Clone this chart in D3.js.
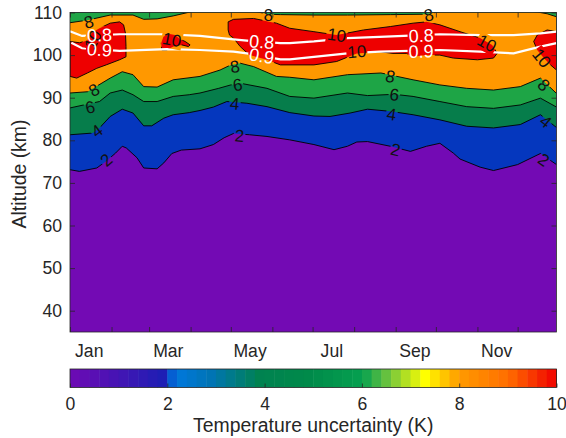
<!DOCTYPE html>
<html>
<head>
<meta charset="utf-8">
<script src="https://cdn.jsdelivr.net/npm/d3@7"></script>
<style>
  body { margin: 0; background: #fff; }
  svg { font-family: "Liberation Sans", Arial, Helvetica, sans-serif; }
</style>
</head>
<body>
<div class="chart"></div>
<script>
/* filled contour levels (K) and the colour of each band */
const levels = [0, 2, 4, 6, 8, 10];
const levelColors = ["#730ab4", "#0537be", "#067d4b", "#1ea546", "#ff9800", "#ee0000"];

/* contour boundaries: [day of year, altitude km] */
const contour2 = [[1,73.1],[8,72.7],[21,73.5],[28,75.1],[35,77.0],[40,78.6],[43,78.2],[51,75.9],[56,73.5],[66,73.3],[71,74.7],[77,76.9],[84,77.7],[98,78.0],[108,79.0],[116,80.6],[123,81.6],[135,81.3],[148,80.9],[165,80.1],[183,79.0],[198,77.8],[208,78.6],[215,79.6],[223,79.7],[240,78.6],[255,77.4],[267,78.6],[277,79.3],[287,77.0],[292,75.6],[307,73.7],[317,72.9],[335,74.3],[352,76.9],[364,74.3]];
const contour4 = [[1,81.3],[18,81.7],[23,82.9],[31,85.6],[40,87.3],[48,86.4],[56,83.4],[62,83.4],[71,85.2],[78,86.0],[90,86.5],[98,87.0],[108,87.8],[118,89.1],[133,88.7],[148,87.9],[165,86.5],[183,85.7],[195,85.6],[210,86.4],[223,87.3],[240,86.8],[257,86.0],[277,84.8],[297,83.3],[317,82.9],[337,83.7],[352,86.0],[364,83.0]];
const contour6 = [[1,87.6],[23,89.1],[31,91.1],[40,91.8],[48,90.7],[56,89.1],[66,89.1],[78,90.3],[90,90.7],[98,91.1],[112,92.2],[121,93.0],[128,93.4],[148,92.2],[165,90.3],[183,89.9],[208,91.1],[223,90.5],[243,90.8],[257,90.3],[277,89.1],[297,87.9],[317,87.5],[337,88.3],[352,89.9],[364,87.8]];
const contour8 = [[1,91.1],[14,91.4],[31,94.6],[40,96.1],[48,95.4],[56,92.6],[66,92.5],[78,94.2],[98,95.0],[113,96.5],[121,97.7],[128,98.1],[138,97.3],[155,95.0],[165,94.8],[183,94.2],[208,95.4],[233,95.8],[257,94.2],[277,93.0],[297,92.2],[317,91.8],[337,92.6],[352,94.6],[364,91.0]];
const contour8top = [[1,107.6],[14,108.2],[31,109.4],[48,109.4],[56,108.4],[66,108.5],[78,109.2],[93,110.3],[105,111],[125,111],[140,110.2],[149,109.6],[158,109.5],[183,109.4],[208,109.4],[240,109.5],[267,109.6],[280,110.4],[300,111],[330,110.8],[350,110.1],[357,109.7],[364,109.0]];

/* closed 10 K regions */
const blob10a = [[1,103.2],[8,102.9],[14,103.4],[17,105.2],[23,106.3],[31,107.5],[38,107.8],[41,107.1],[42.4,105.1],[42.8,102.0],[42.8,99.6],[38,98.9],[28,97.7],[21,96.9],[14,95.8],[6,94.6],[1,95.0]];
const blob10b = [[69,102.8],[70.7,104.3],[74.4,105.0],[79.4,104.7],[83.2,103.7],[86.9,103.2],[90.6,102.4],[89.4,102.0],[84.4,102.4],[78.2,102.0],[73.2,101.2],[69.5,101.2]];
const blob10c = [[119,107.8],[123,108.4],[138,108.6],[155,107.5],[165,106.3],[183,105.5],[200,104.7],[220,105.9],[240,106.7],[257,107.5],[267,107.8],[277,107.1],[292,105.5],[307,104.0],[316,102.4],[319.7,100.4],[317,99.3],[305,98.9],[287,99.3],[277,100.0],[267,100.0],[257,99.6],[252,100.4],[242,100.4],[232,100.8],[215,100.4],[200,98.5],[183,97.7],[158,97.7],[148,98.9],[135,100.0],[128,102.0],[123,104.0],[120,104.7],[119,105.9]];
const blob10d = [[364,105.5],[357,105.9],[349.6,104.7],[347,103.2],[349.6,101.2],[354.5,99.3],[359.5,97.7],[364,96.5]];

/* white contours of the second field */
const line08 = [[1,105.6],[10,104.5],[38,104.9],[73,104.9],[98,104.5],[123,103.7],[133,103.4],[158,102.8],[165,102.8],[183,103.2],[208,104.0],[232,104.3],[250,104.5],[277,104.9],[307,104.7],[332,104.7],[352,105.1],[364,105.5]];
const line09 = [[2,102.9],[10,101.6],[38,101.0],[73,101.4],[98,101.2],[123,100.8],[133,100.4],[158,99.0],[165,99.0],[183,99.6],[208,100.4],[232,100.8],[277,101.2],[307,100.8],[332,100.4],[352,102.0],[364,102.8]];

/* contour labels: [text, day, altitude] */
const blackLabels = [["10",18,103.6],["8",15,107.8],["8",19,91.8],["6",16,87.8],["4",21,82.2],["2",28,75.4],
  ["10",77,103.6],["8",124,97.3],["6",126,93.0],["4",124,88.6],["2",127.5,81.1],["8",149,109.4],
  ["10",200,104.7],["10",215,100.8],["8",268.6,109.4],["8",240,95.0],["6",243,90.7],["4",241,86.1],["2",244,77.8],
  ["10",312,102.8],["10",353,99.3],["8",354.5,93.0],["4",356,84.4],["2",354.5,75.4]];
const whiteLabels = [["0.8",23,104.7],["0.9",23,101.3],["0.8",144,103.1],["0.9",144,99.8],["0.8",263,104.6],["0.9",263,100.9]];

/* axis ticks */
const monthStarts = [1,32,60,91,121,152,182,213,244,274,305,335];
const monthNames = ["Jan","Mar","May","Jul","Sep","Nov"];
const monthMids = [15,74,135,196,258,319];
const altTicks = [40,50,60,70,80,90,100,110];
const cbarTicks = [0,2,4,6,8,10];

/* colormap of the colour bar */
const cmapStops = [0, 1.9, 2.0, 2.2, 2.9, 3.9, 4.9, 6.0, 6.6, 7.3, 7.6, 8.0, 9.0, 10];
const cmapColors = ["#6e0ab4","#1e1eb4","#0a46c8","#0078dc","#0074b4","#008250","#008a4a","#05a050","#78c83c","#ffff00","#ffd200","#ff9a00","#ff6e00","#f00000"];

/* initialize SVG */
const width = 566;
const height = 438;
const plot = {left: 70, right: 556.5, top: 12.5, bottom: 332};
const axisColor = "#262626";
const tickFont = 17.6;
const labelFont = 19.4;

const svg = d3.select(".chart").append("svg")
  .attr("width", width)
  .attr("height", height)
  .attr("viewBox", [0, 0, width, height]);

const x = d3.scaleLinear().domain([1, 364]).range([plot.left, plot.right]);
const y = d3.scaleLinear().domain([35, 110]).range([plot.bottom, plot.top]);

const defs = svg.append("defs");
defs.append("clipPath").attr("id", "plot-clip")
  .append("rect")
  .attr("x", plot.left).attr("y", plot.top)
  .attr("width", plot.right - plot.left).attr("height", plot.bottom - plot.top);

/* mask that breaks contour lines under their labels */
const mask = defs.append("mask").attr("id", "label-mask")
  .attr("maskUnits", "userSpaceOnUse")
  .attr("x", 0).attr("y", 0).attr("width", width).attr("height", height);
mask.append("rect").attr("width", width).attr("height", height).attr("fill", "white");

/* generators */
const line = d3.line().x(d => x(d[0])).y(d => y(d[1]));
const areaAbove = d3.area().x(d => x(d[0])).y0(plot.top - 10).y1(d => y(d[1]));
const band = (lower, upper) => line(lower.concat(upper.slice().reverse())) + "Z";

/* filled bands */
const fills = svg.append("g").attr("clip-path", "url(#plot-clip)");
fills.append("rect")
  .attr("x", plot.left).attr("y", plot.top)
  .attr("width", plot.right - plot.left).attr("height", plot.bottom - plot.top)
  .attr("fill", levelColors[0]);
[contour2, contour4, contour6].forEach((c, i) => {
  fills.append("path").attr("d", areaAbove(c)).attr("fill", levelColors[i + 1]);
});
fills.append("path").attr("d", band(contour8, contour8top)).attr("fill", levelColors[4]);
const blobs = [blob10a, blob10b, blob10c, blob10d];
fills.selectAll(".blob")
  .data(blobs)
  .join("path")
  .attr("class", "blob")
  .attr("d", d => line(d) + "Z")
  .attr("fill", levelColors[5]);

/* black contour lines */
const lineGroup = svg.append("g").attr("clip-path", "url(#plot-clip)")
  .append("g").attr("mask", "url(#label-mask)");
lineGroup.selectAll(".cline")
  .data([contour2, contour4, contour6, contour8, contour8top])
  .join("path")
  .attr("class", "cline")
  .attr("d", line)
  .attr("fill", "none")
  .attr("stroke", "#000")
  .attr("stroke-width", 0.9);
lineGroup.selectAll(".bline")
  .data(blobs)
  .join("path")
  .attr("class", "bline")
  .attr("d", d => line(d) + "Z")
  .attr("fill", "none")
  .attr("stroke", "#000")
  .attr("stroke-width", 0.9);

/* white contour lines */
lineGroup.selectAll(".wline")
  .data([line08, line09])
  .join("path")
  .attr("class", "wline")
  .attr("d", line)
  .attr("fill", "none")
  .attr("stroke", "#fff")
  .attr("stroke-width", 2.2);

/* lines each label belongs to */
const toPx = pts => pts.map(d => [x(d[0]), y(d[1])]);
const closed = pts => pts.concat([pts[0]]);
const labelLines = {
  "2": [contour2], "4": [contour4], "6": [contour6], "8": [contour8, contour8top],
  "10": blobs.map(closed), "0.8": [line08], "0.9": [line09]
};

/* angle of the nearest segment, so the label follows the line */
function nearestAngle(px, py, lines) {
  let best = {d: Infinity, a: 0};
  lines.forEach(l => {
    const pts = toPx(l);
    for (let i = 1; i < pts.length; i++) {
      const [x1, y1] = pts[i - 1], [x2, y2] = pts[i];
      const dx = x2 - x1, dy = y2 - y1;
      const t = Math.max(0, Math.min(1, ((px - x1) * dx + (py - y1) * dy) / (dx * dx + dy * dy)));
      const dist = Math.hypot(x1 + t * dx - px, y1 + t * dy - py);
      if (dist < best.d) best = {d: dist, a: Math.atan2(dy, dx) * 180 / Math.PI};
    }
  });
  let a = best.a;
  if (a > 90) a -= 180;
  if (a < -90) a += 180;
  return a;
}

function drawLabels(data, color, size) {
  const g = svg.append("g");
  g.selectAll("text")
    .data(data)
    .join("text")
    .attr("x", d => x(d[1]))
    .attr("y", d => y(d[2]))
    .attr("text-anchor", "middle")
    .attr("dy", "0.35em")
    .attr("font-size", size)
    .attr("fill", color)
    .attr("transform", d => `rotate(${nearestAngle(x(d[1]), y(d[2]), labelLines[d[0]])},${x(d[1])},${y(d[2])})`)
    .text(d => d[0])
    .each(function() {
      const b = this.getBBox();
      mask.append("rect")
        .attr("x", b.x - 1).attr("y", b.y + 1)
        .attr("width", b.width + 2).attr("height", b.height - 2)
        .attr("fill", "black")
        .attr("transform", this.getAttribute("transform"));
    });
}
drawLabels(blackLabels, "#111", 17);
drawLabels(whiteLabels, "#fff", 18);

/* axes: ticks inside on all four sides */
const tickStyle = g => {
  g.select(".domain").remove();
  g.selectAll(".tick line").attr("stroke", axisColor).attr("stroke-width", 0.8);
  g.selectAll("text").attr("fill", axisColor).attr("font-size", tickFont);
};
svg.append("g")
  .attr("transform", `translate(0,${plot.bottom})`)
  .call(d3.axisBottom(x).tickValues(monthStarts).tickSize(-5).tickFormat(""))
  .call(tickStyle);
svg.append("g")
  .attr("transform", `translate(0,${plot.top})`)
  .call(d3.axisTop(x).tickValues(monthStarts).tickSize(-5).tickFormat(""))
  .call(tickStyle);
svg.append("g")
  .attr("transform", `translate(0,${plot.bottom})`)
  .call(d3.axisBottom(x).tickValues(monthMids).tickSize(0).tickPadding(12.5)
    .tickFormat((d, i) => monthNames[i]))
  .call(tickStyle);
svg.append("g")
  .attr("transform", `translate(${plot.left},0)`)
  .call(d3.axisLeft(y).tickValues(altTicks).tickSize(-5).tickPadding(8))
  .call(tickStyle);
svg.append("g")
  .attr("transform", `translate(${plot.right},0)`)
  .call(d3.axisRight(y).tickValues(altTicks).tickSize(-5).tickFormat(""))
  .call(tickStyle);
svg.append("rect")
  .attr("x", plot.left).attr("y", plot.top)
  .attr("width", plot.right - plot.left).attr("height", plot.bottom - plot.top)
  .attr("fill", "none").attr("stroke", axisColor).attr("stroke-width", 0.8);

svg.append("text")
  .attr("transform", `translate(25.5,174) rotate(-90)`)
  .attr("text-anchor", "middle")
  .attr("font-size", labelFont)
  .attr("fill", axisColor)
  .text("Altitude (km)");

/* colour bar */
const cbar = {top: 369, bottom: 387.5};
const c = d3.scaleLinear().domain([0, 10]).range([plot.left, plot.right]);
const cmap = d3.scaleLinear().domain(cmapStops).range(cmapColors).interpolate(d3.interpolateRgb);
const steps = d3.range(50).map(i => i * 0.2);
svg.append("g").selectAll("rect")
  .data(steps)
  .join("rect")
  .attr("x", d => c(d))
  .attr("y", cbar.top)
  .attr("width", c(0.2) - c(0) + 0.5)
  .attr("height", cbar.bottom - cbar.top)
  .attr("fill", d => cmap(d + 0.1));
svg.append("g")
  .attr("transform", `translate(0,${cbar.bottom})`)
  .call(d3.axisBottom(c).tickValues(cbarTicks).tickSize(-4).tickPadding(10))
  .call(tickStyle);
svg.append("rect")
  .attr("x", plot.left).attr("y", cbar.top)
  .attr("width", plot.right - plot.left).attr("height", cbar.bottom - cbar.top)
  .attr("fill", "none").attr("stroke", axisColor).attr("stroke-width", 0.8);
svg.append("text")
  .attr("x", (plot.left + plot.right) / 2)
  .attr("y", 432)
  .attr("text-anchor", "middle")
  .attr("font-size", labelFont)
  .attr("fill", axisColor)
  .text("Temperature uncertainty (K)");
</script>
</body>
</html>
